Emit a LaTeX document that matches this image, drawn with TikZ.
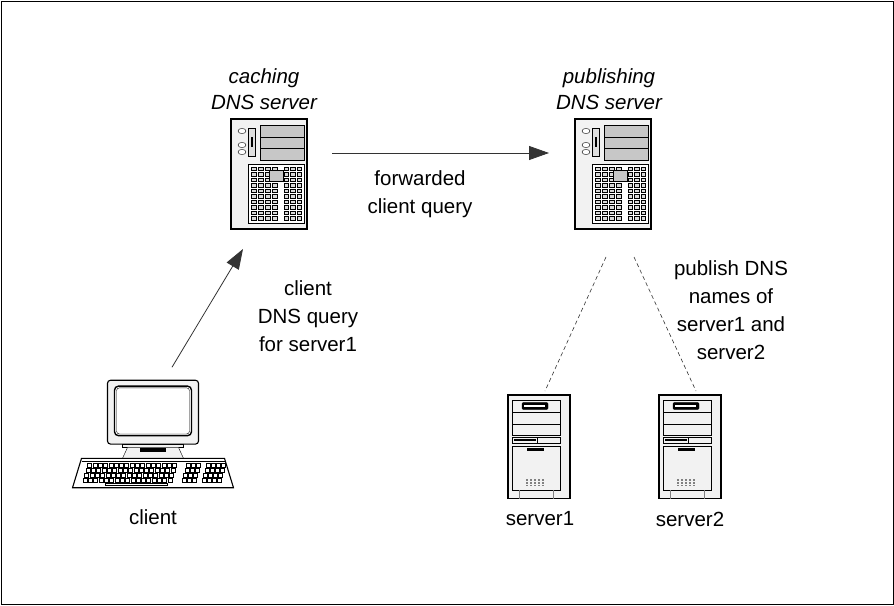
\documentclass[tikz,border=0pt]{standalone}
\usepackage{fontspec}
\setmainfont{Liberation Sans}
\usetikzlibrary{arrows.meta,calc,positioning}

\definecolor{casegray}{gray}{0.95}
\definecolor{baygray}{gray}{0.78}

\tikzset{
  % big server tower, origin at its upper left corner
  pics/bigtower/.style={code={
    \draw[line width=1.1pt, fill=casegray] (0,0) rectangle (76,110);
    % lamps
    \foreach \y in {12,26,33}
      \draw[fill=white] (11,\y) ellipse [x radius=4pt, y radius=2.6pt];
    % floppy slot
    \draw[fill=gray!25] (17,9) rectangle (24,37);
    \fill (19.5,18) rectangle (21.5,28);
    % drive bays
    \draw[fill=baygray] (29,6) rectangle (73,41);
    \draw (29,18) -- (73,18) (29,29) -- (73,29);
    % vent grille
    \draw[fill=white] (17,45) rectangle (73,104);
    \foreach \r in {0,...,9}{
      \foreach \c in {0,...,3}
        \draw[line width=0.5pt, fill=gray!30] (20+7*\c,48+5.5*\r) rectangle ++(5,3.5);
      \foreach \c in {0,...,2}
        \draw[line width=0.5pt, fill=gray!30] (53+6.5*\c,48+5.5*\r) rectangle ++(4.5,3.5);
    }
    \draw[fill=baygray] (38,51) rectangle (52,62);
  }},
  % small server tower
  pics/minitower/.style={code={
    \draw[line width=1.1pt, fill=casegray] (0,0) rectangle (62,108);
    % drive bays
    \draw[fill=casegray] (4,5) rectangle (52,42);
    \draw (4,18) -- (52,18) (4,30) -- (52,30);
    \draw[line width=1.4pt] (4,42) -- (52,42);
    \draw[fill=black, rounded corners=1pt] (14,8) rectangle (40,15);
    \fill[white] (16,10) rectangle (37,13);
    % front strip
    \draw[fill=casegray] (4,44) rectangle (52,50);
    \fill (6,46) rectangle (28,48);
    \draw (29,44) -- (29,50);
    % lower panel
    \draw[fill=casegray] (4,53) rectangle (52,99);
    \fill (19,55.5) rectangle (36,58);
    \foreach \r in {0,1,2}
      \foreach \c in {0,...,4}
        \fill[gray] (18+4*\c,88+3*\r) rectangle ++(1.5,1.2);
    \draw[gray] (11,99) -- (11,108) (45,99) -- (45,108);
  }},
  % desktop computer, origin at the monitor's upper left corner
  pics/desktop/.style={code={
    % monitor
    \draw[line width=1.1pt, fill=casegray, rounded corners=3pt] (0,0) rectangle (91,76);
    \draw[line width=1.4pt, fill=white, rounded corners=4pt] (7,7) rectangle (84,66);
    \draw[rounded corners=3pt] (9,9) rectangle (82,64);
    % stand
    \draw[fill=casegray] (15,76) rectangle (76,80);
    \draw[fill=casegray] (20,80) -- (71,80) -- (76,93) -- (15,93) -- cycle;
    \fill (32,81) rectangle (58,85);
    % keyboard
    \draw[line width=1.1pt, fill=white] (-26,93) -- (117,93) -- (126,128) -- (-35,128) -- cycle;
    \draw (-26,96) -- (117,96);
    \foreach \r in {0,...,3}{
      \foreach \c in {0,...,16}
        \draw[line width=0.4pt] (-20+5.3*\c-1.5*\r,99+6*\r) rectangle ++(4,4);
      \foreach \c in {0,1,2}
        \draw[line width=0.4pt] (79+5*\c-1.5*\r,99+6*\r) rectangle ++(4,4);
      \foreach \c in {0,...,3}
        \draw[line width=0.4pt] (99+5*\c-1.5*\r,99+6*\r) rectangle ++(4,4);
    }
    \draw[line width=0.4pt] (-2,123) rectangle (60,125.5);
  }},
}

\begin{document}
\begin{tikzpicture}[x=1pt, y=-1pt,
    txt/.style={font=\fontsize{20.5}{28}\selectfont, align=center, inner sep=0pt},
    title/.style={txt, font=\fontsize{20.5}{26}\selectfont\itshape},
    hostbox/.style={inner sep=0pt, outer sep=0pt},
    fwd/.style={draw=black!80, line width=0.8pt, -{Triangle[length=20pt,width=14pt]}},
    link/.style={draw=black!80, line width=0.6pt, dashed, dash pattern=on 4pt off 3pt}]

    % Frame
    \draw[line width=0.8pt, fill=white] (1,1) rectangle (893,604);
    \useasboundingbox (0,0) rectangle (894,605);

    % Hosts
    \node[hostbox, minimum width=76pt, minimum height=110pt] (cache) at (269,174) {};
    \pic at (cache.north west) {bigtower};
    \node[hostbox, minimum width=76pt, minimum height=110pt] (pub) at (613,174) {};
    \pic at (pub.north west) {bigtower};
    \node[hostbox, minimum width=62pt, minimum height=104pt] (srvA) at (539,447) {};
    \pic[yscale=0.96] at (srvA.north west) {minitower};
    \node[hostbox, minimum width=62pt, minimum height=104pt] (srvB) at (690,447) {};
    \pic[yscale=0.96] at (srvB.north west) {minitower};
    \node[hostbox, minimum width=91pt, minimum height=107.5pt] (client) at (153,434) {};
    \pic[yscale=0.84] at (client.north west) {desktop};

    % Titles
    \node[title] (cachetitle) at (264,89) {caching\\DNS server};
    \node[title] (pubtitle) at (609,89) {publishing\\DNS server};

    % Host names
    \node[txt] (clientname) at (153,517) {client};
    \node[txt] (srvAname) at (540,519) {server1};
    \node[txt] (srvBname) at (690,519) {server2};

    % Queries
    \draw[fwd] ($(cache.east)+(25,-21)$) -- ($(pub.west)+(-26,-21)$);
    \node[txt] (fwdlabel) at (420,194) {forwarded\\client query};
    \draw[fwd] ($(client.north)+(19,-13)$) -- ($(cache.south west)+(12,20)$);
    \node[txt] (querylabel) at (308,316) {client\\DNS query\\for server1};

    % Published names
    \draw[link] ($(pub.south)+(-7,28)$) -- ($(srvA.north)+(6,-4)$);
    \draw[link] ($(pub.south)+(21,28)$) -- ($(srvB.north)+(6,-4)$);
    \node[txt] (publabel) at (731,310) {publish DNS\\names of\\server1 and\\server2};
\end{tikzpicture}
\end{document}
